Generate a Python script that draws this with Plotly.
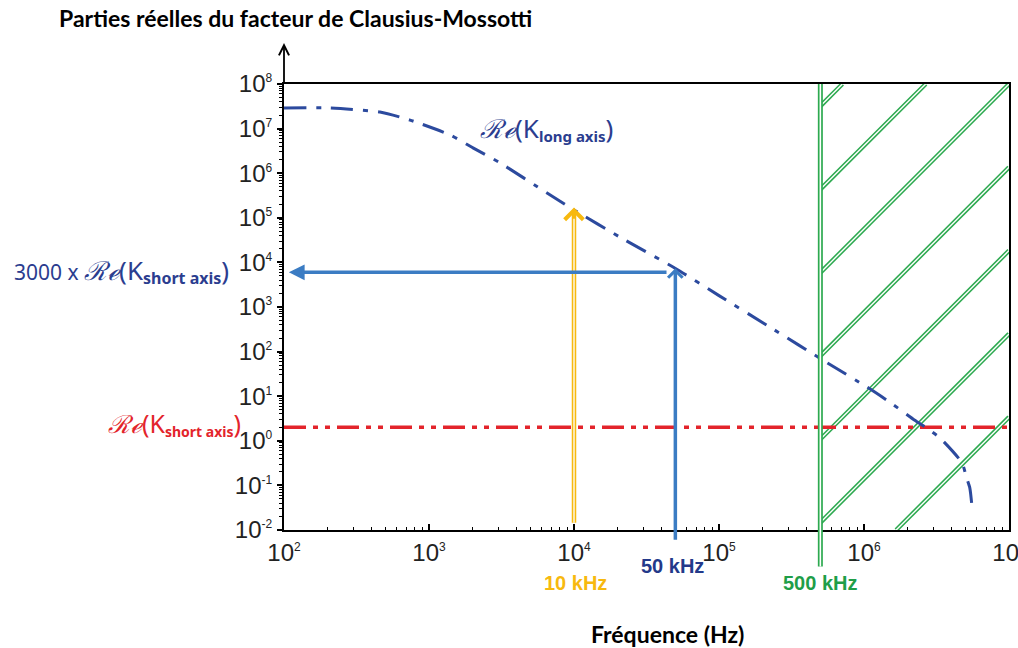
import numpy as np
import plotly.graph_objects as go

# ---------------- data ----------------
freq_long = [100, 207, 459, 740, 1400, 2010, 3090, 6520, 1.0e4, 2.07e4, 4.98e4,
             1.0e5, 2.24e5, 5.6e5, 1.05e6, 1.5e6, 2.24e6, 2.7e6, 3.34e6, 4.74e6,
             5.1e6, 5.37e6, 5.6e6]
re_long = [2.9e7, 2.9e7, 2.35e7, 1.55e7, 7.2e6, 3.7e6, 1.7e6, 3.6e5, 1.5e5, 3.7e4, 7.4e3,
           1.8e3, 355, 55.6, 16, 7.4, 2.9, 1.94, 1.16, 0.32,
           0.147, 0.087, 0.025]
re_short = 2.0
short_factor = 3000

f_yellow = 1.0e4      # 10 kHz
f_blue = 5.0e4        # 50 kHz
f_green = 5.0e5       # 500 kHz
yellow_tip = 1.7e5
blue_tip = 7.4e3
h_arrow_from = 4.45e4
h_arrow_to = 1.08e2

x_exps = [2, 3, 4, 5, 6, 7]
y_exps = [-2, -1, 0, 1, 2, 3, 4, 5, 6, 7, 8]

x_labels = ["10 kHz", "50 kHz", "500 kHz"]
title_text = "Parties réelles du facteur de Clausius-Mossotti"
xlabel_text = "Fréquence (Hz)"

# ---------------- layout geometry ----------------
W_FIG, H_FIG = 1018, 648
ML, MR, MT, MB = 284, 9, 84, 118
PW, PH = W_FIG - ML - MR, H_FIG - MT - MB
X_RANGE = [2, 7]
Y_RANGE = [-2, 8]

NAVY = "#2B3D8F"
CURVE = "#2C4A9E"
RED = "#E3242B"
STEEL = "#3B7CC3"
YEL = "#F7B90F"
GREEN = "#2DAA50"
TICKFONT = dict(family="Liberation Sans, Arial, sans-serif", size=24, color="#222222")


def px_to_paper(px, py):
    return (px - ML) / PW, (H_FIG - MB - py) / PH


def tick_text(e):
    return "10<sup><span style='font-size:12px'>%d</span></sup>" % e


fig = go.Figure()

# hatched region (double green lines), clipped to [500 kHz, 10^7] x [plot]
u_g = (np.log10(f_green) - X_RANGE[0]) / (X_RANGE[1] - X_RANGE[0])
spacing = 83.3
for j in range(-2, 5):
    u_top = 1 + j * spacing / PW
    u0 = max(u_g, u_top - PH / PW)
    u1 = min(1.0, u_top)
    if u0 >= u1:
        continue
    v0 = 1 - (u_top - u0) * PW / PH
    v1 = 1 - (u_top - u1) * PW / PH
    for col, w in ((GREEN, 4.5), ("white", 1.4)):
        fig.add_shape(type="line", xref="x domain", yref="y domain",
                      x0=u0, y0=v0, x1=u1, y1=v1, layer="below",
                      line=dict(color=col, width=w))

# Re(K_short axis) line
fig.add_trace(go.Scatter(
    x=[10 ** X_RANGE[0], 10 ** X_RANGE[1]], y=[re_short, re_short], mode="lines",
    line=dict(color=RED, width=3.5, dash="22px,7px,5px,7px,5px,7px"),
    hoverinfo="skip", showlegend=False))

# Re(K_long axis) curve
fig.add_trace(go.Scatter(
    x=freq_long, y=re_long, mode="lines",
    line=dict(color=CURVE, width=3, dash="22px,10px,5px,10px", shape="spline", smoothing=0.6),
    hoverinfo="skip", showlegend=False))

ann = []

# green vertical line at 500 kHz (double line), extends below axis
for col, w in ((GREEN, 5), ("white", 1.6)):
    ann.append(dict(x=np.log10(f_green), y=Y_RANGE[1], xref="x", yref="y",
                    ax=np.log10(f_green), ay=Y_RANGE[0] - 0.85, axref="x", ayref="y",
                    text="", showarrow=True, arrowhead=0, arrowwidth=w, arrowcolor=col))

# yellow arrow at 10 kHz (double line)
ann.append(dict(x=np.log10(f_yellow), y=np.log10(yellow_tip), xref="x", yref="y",
                ax=np.log10(f_yellow), ay=Y_RANGE[0] + 0.13, axref="x", ayref="y",
                text="", showarrow=True, arrowhead=4, arrowsize=0.8, arrowwidth=4.5,
                arrowcolor=YEL))
ann.append(dict(x=np.log10(f_yellow), y=np.log10(yellow_tip) - 0.25, xref="x", yref="y",
                ax=np.log10(f_yellow), ay=Y_RANGE[0] + 0.13, axref="x", ayref="y",
                text="", showarrow=True, arrowhead=0, arrowwidth=1.3, arrowcolor="white"))

# horizontal blue arrow: 3000 x Re(K_short)
yh = np.log10(short_factor * re_short)
ann.append(dict(x=np.log10(h_arrow_to), y=yh, xref="x", yref="y",
                ax=np.log10(h_arrow_from), ay=yh, axref="x", ayref="y",
                text="", showarrow=True, arrowhead=2, arrowsize=0.9, arrowwidth=3.5,
                arrowcolor=STEEL))

# vertical blue arrow at 50 kHz
ann.append(dict(x=np.log10(f_blue), y=np.log10(blue_tip), xref="x", yref="y",
                ax=np.log10(f_blue), ay=Y_RANGE[0] - 0.25, axref="x", ayref="y",
                text="", showarrow=True, arrowhead=4, arrowsize=0.8, arrowwidth=3.5,
                arrowcolor=STEEL))

# y axis arrow above the plot
ux, uy = px_to_paper(ML, 43)
ann.append(dict(x=0, y=uy, xref="paper", yref="paper", ax=0, ay=42,
                text="", showarrow=True, arrowhead=5, arrowsize=1.1, arrowwidth=1.8,
                arrowcolor="black"))

# texts
def txt(px, py, text, font, xanchor="center"):
    u, v = px_to_paper(px, py)
    ann.append(dict(x=u, y=v, xref="paper", yref="paper", text=text, showarrow=False,
                    xanchor=xanchor, yanchor="middle", font=font))

BOLDF = "Lato, Open Sans, sans-serif"
txt(57, 18, "<b>%s</b>" % title_text, dict(family=BOLDF, size=23, color="black"), "left")
txt(667, 634, "<b>%s</b>" % xlabel_text, dict(family=BOLDF, size=23, color="black"))

LBLF = "Liberation Sans, Arial, sans-serif"
txt(575, 583, "<b>%s</b>" % x_labels[0], dict(family=LBLF, size=20, color=YEL))
txt(672, 566, "<b>%s</b>" % x_labels[1], dict(family=LBLF, size=20, color="#23398A"))
txt(820, 583, "<b>%s</b>" % x_labels[2], dict(family=LBLF, size=20, color="#1F9E48"))


def kexpr(sub, big, subsize):
    re_part = "<span style='font-family:DejaVu Serif;font-size:%dpx'><i>ℛℯ</i></span>" % big
    return (re_part + "<span style='font-size:%dpx'>(K</span>" % big +
            "<sub><b><span style='font-size:%dpx'>%s</span></b></sub>" % (subsize, sub) +
            "<span style='font-size:%dpx'>)</span>" % big)


LF = dict(family="Noto Sans, DejaVu Sans, sans-serif", size=21, color=NAVY)
txt(12, 270, "3000 x " + kexpr("short axis", 26, 16), LF, "left")
txt(106, 423, kexpr("short axis", 25, 14), dict(LF, size=20, color=RED), "left")
txt(478, 128, kexpr("long axis", 26, 15), LF, "left")

fig.update_layout(
    template="none",
    width=W_FIG, height=H_FIG, autosize=False,
    margin=dict(l=ML, r=MR, t=MT, b=MB, pad=0, autoexpand=False),
    paper_bgcolor="white", plot_bgcolor="rgba(0,0,0,0)",
    showlegend=False, annotations=ann,
)
fig.update_xaxes(
    type="log", range=X_RANGE, showgrid=False, zeroline=False, automargin=False,
    showline=True, linecolor="black", linewidth=2, mirror=True,
    tickmode="array", tickvals=[10.0 ** e for e in x_exps],
    ticktext=[tick_text(e) for e in x_exps], ticklabeloverflow="allow",
    ticks="inside", ticklen=6, tickwidth=1.5, tickcolor="black",
    tickfont=TICKFONT,
    minor=dict(tickmode="array",
               tickvals=[m * 10.0 ** e for e in x_exps[:-1] for m in range(2, 10)],
               ticks="inside", ticklen=3, tickwidth=1.2, tickcolor="black", showgrid=False),
)
fig.update_yaxes(
    type="log", range=Y_RANGE, showgrid=False, zeroline=False, automargin=False,
    showline=True, linecolor="black", linewidth=2, mirror=True,
    tickmode="array", tickvals=[10.0 ** e for e in y_exps],
    ticktext=[tick_text(e) for e in y_exps], ticklabeloverflow="allow",
    ticks="outside", ticklen=5, tickwidth=1.5, tickcolor="black",
    tickfont=TICKFONT,
    minor=dict(tickmode="array",
               tickvals=[m * 10.0 ** e for e in y_exps[:-1] for m in range(2, 10)],
               ticks="outside", ticklen=3, tickwidth=1.2, tickcolor="black", showgrid=False),
)

fig.write_html("out.html", config={"displayModeBar": False},
               post_script="document.body.style.margin='0px';")
